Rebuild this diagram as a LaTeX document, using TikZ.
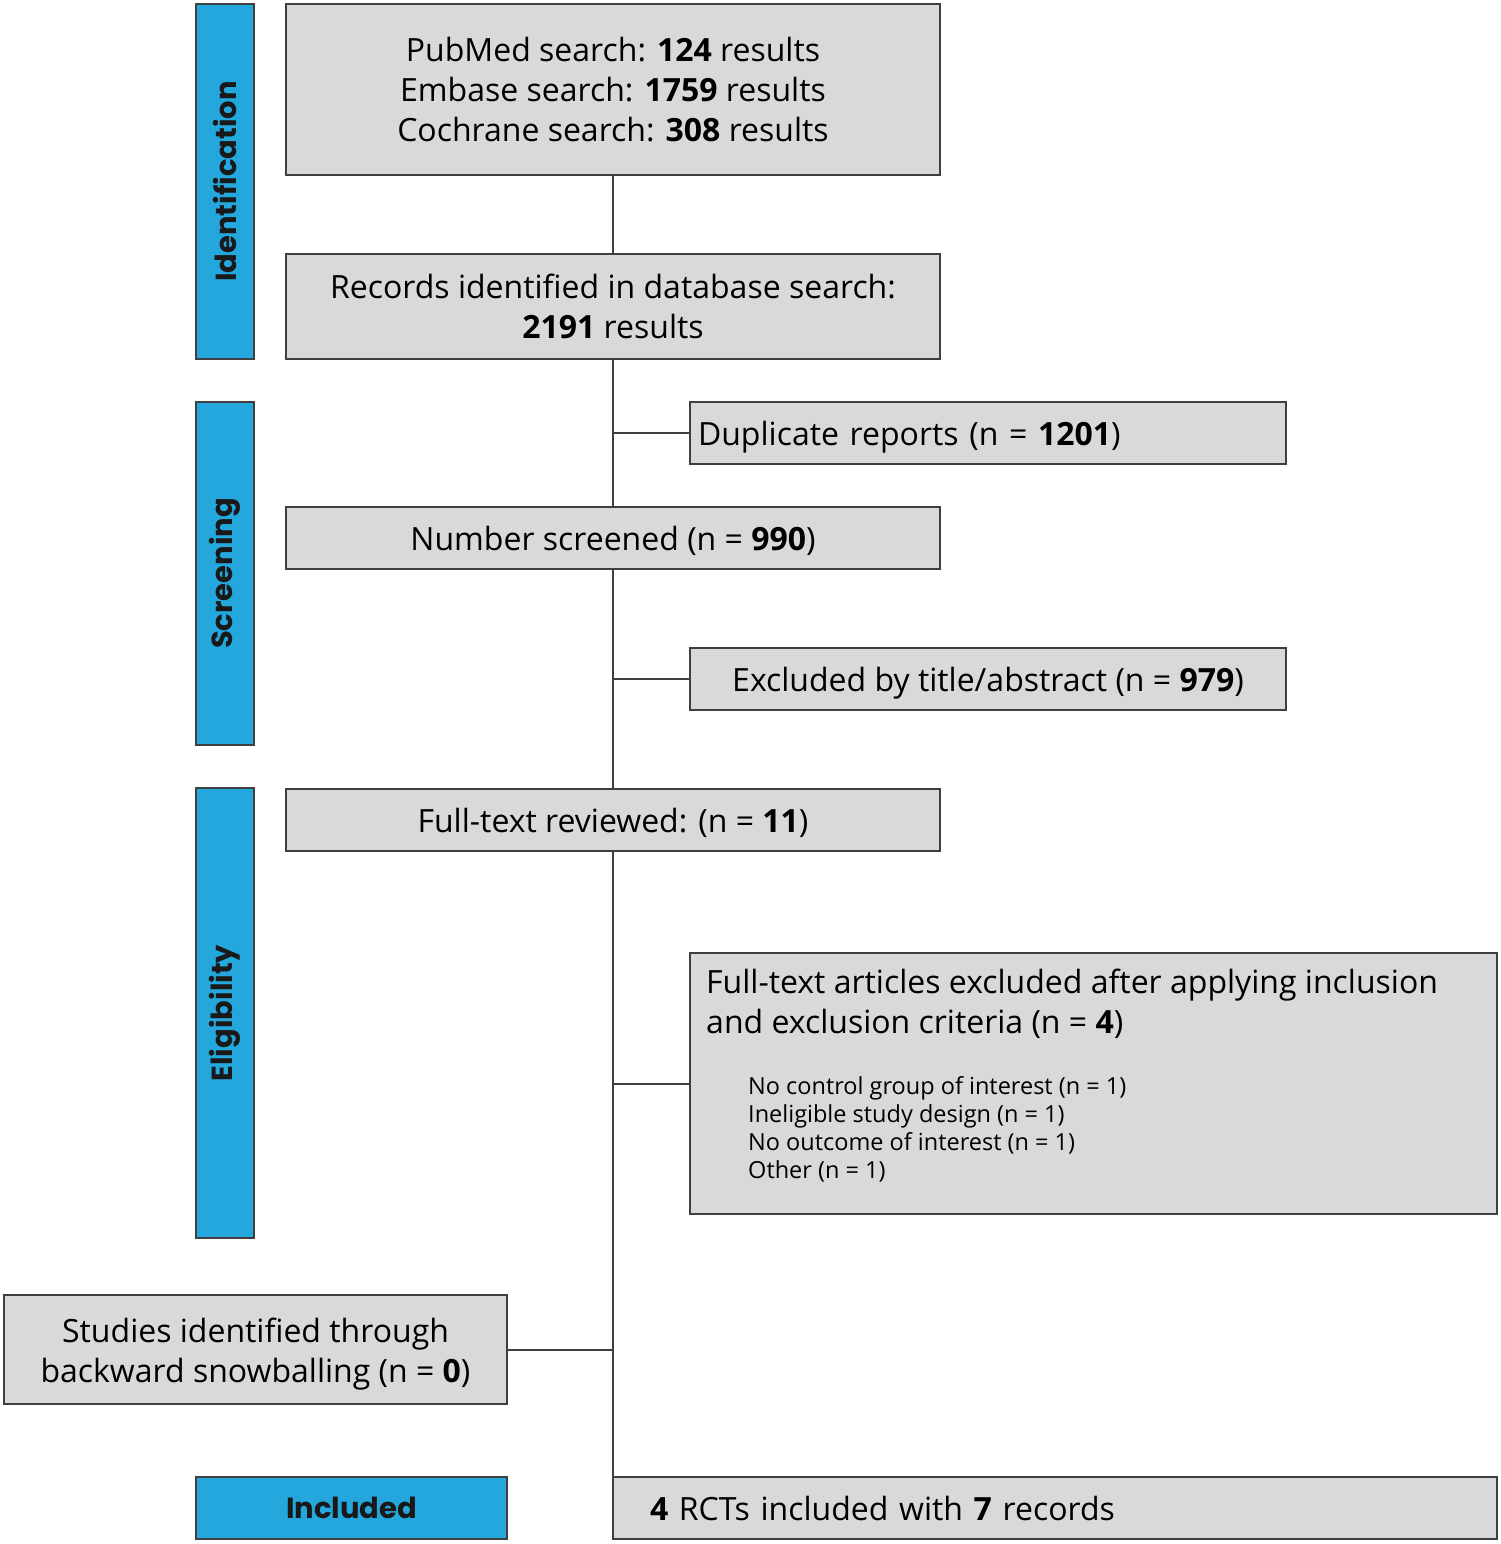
\documentclass[tikz,border=0pt]{standalone}
\usepackage{fontspec}
\setmainfont{Open Sans}
\newfontfamily\labelfont{Poppins}
\definecolor{boxgray}{HTML}{D9D9D9}
\definecolor{edge}{HTML}{3F3F3F}
\definecolor{phaseblue}{HTML}{23A7DD}
\begin{document}
\begin{tikzpicture}[x=1pt,y=-1pt,
  gbox/.style={draw=edge,line width=2.5pt,fill=boxgray,inner sep=0pt,outer sep=0pt,
    font=\fontsize{32}{40}\selectfont,align=center},
  lowered/.style={text height=32pt,text depth=8pt},
  phase/.style={draw=edge,line width=2.5pt,fill=phaseblue,inner sep=0pt,outer sep=0pt},
  phasetext/.style={rotate=90,font=\labelfont\bfseries\fontsize{29}{32}\selectfont,text=black!90},
  link/.style={draw=edge,line width=2pt}
]
\useasboundingbox (0,0) rectangle (1501,1544);
% phase boxes
\node[phase,minimum width=58pt,minimum height=355pt] (ident) at (225,181.5) {};
\node[phasetext] (identt) at (ident.center) {Identification};
\node[phase,minimum width=58pt,minimum height=343pt] (scr) at (225,573.5) {};
\node[phasetext] (scrt) at (scr.center) {Screening};
\node[phase,minimum width=58pt,minimum height=450pt] (elig) at (225,1013) {};
\node[phasetext] (eligt) at (elig.center) {Eligibility};
\node[phase,minimum width=311pt,minimum height=62pt,font=\labelfont\bfseries\fontsize{29}{32}\selectfont,text=black!90] (incl) at (351.5,1508) {Included};
% main boxes
\node[gbox,minimum width=654pt,minimum height=171pt] (search) at (613,89.5)
  {PubMed search: \textbf{124} results\\Embase search: \textbf{1759} results\\Cochrane search: \textbf{308} results};
\node[gbox,minimum width=654pt,minimum height=105pt] (records) at (613,306.5)
  {Records identified in database search:\\\textbf{2191} results};
\node[gbox,lowered,minimum width=596pt,minimum height=62pt,text width=580pt,align=left] (dup) at (988,433)
  {Duplicate reports (n = \textbf{1201})};
\node[gbox,lowered,minimum width=654pt,minimum height=62pt] (screened) at (613,538)
  {Number screened (n = \textbf{990})};
\node[gbox,lowered,minimum width=596pt,minimum height=62pt] (excl) at (988,679)
  {Excluded by title/abstract (n = \textbf{979})};
\node[gbox,lowered,minimum width=654pt,minimum height=62pt] (full) at (613,820)
  {Full-text reviewed: (n = \textbf{11})};
\node[gbox,minimum width=807pt,minimum height=261pt] (ftex) at (1093.5,1083.5) {};
\node[anchor=north west,inner sep=0pt,align=left,font=\fontsize{32}{39.5}\selectfont] (ftext) at (706,969)
  {Full-text articles excluded after applying inclusion\\and exclusion criteria (n = \textbf{4})};
\node[anchor=north west,inner sep=0pt,align=left,font=\fontsize{23.5}{28}\selectfont] (flist) at (748,1076)
  {No control group of interest (n = 1)\\Ineligible study design (n = 1)\\No outcome of interest (n = 1)\\Other (n = 1)};
\node[gbox,minimum width=503pt,minimum height=109pt] (snow) at (255.5,1349.5) {};
\node[inner sep=0pt,align=center,font=\fontsize{32}{40}\selectfont] (snowt) at (255.5,1354.5)
  {Studies identified through\\backward snowballing (n = \textbf{0})};
\node[gbox,minimum width=884pt,minimum height=62pt,text width=810pt,align=left] (rct) at (1055,1508)
  {\textbf{4} RCTs included with \textbf{7} records};
% connectors
\draw[link] (search.south) -- (records.north);
\draw[link] (records.south) -- (screened.north);
\draw[link] (screened.south) -- (full.north);
\draw[link] (full.south) -- (rct.south west);
\draw[link] (dup.west) -- (dup.west -| records.south);
\draw[link] (excl.west) -- (excl.west -| screened.south);
\draw[link] (ftex.west) -- (ftex.west -| full.south);
\draw[link] (snow.east) -- (snow.east -| full.south);
\end{tikzpicture}
\end{document}
